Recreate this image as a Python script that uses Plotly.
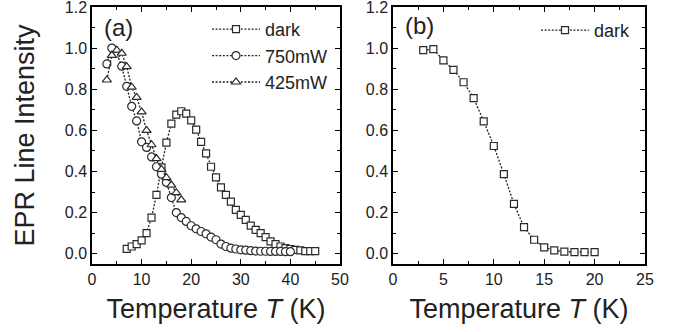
import plotly.graph_objects as go

# ---- data ----
t_dark_a = list(range(7, 46))
i_dark_a = [0.024, 0.035, 0.047, 0.065, 0.10, 0.176, 0.286, 0.42, 0.54, 0.633,
            0.677, 0.693, 0.681, 0.649, 0.604, 0.544, 0.488, 0.423, 0.371, 0.323,
            0.286, 0.253, 0.213, 0.189, 0.165, 0.137, 0.116, 0.10, 0.081, 0.060,
            0.047, 0.035, 0.027, 0.023, 0.019, 0.016, 0.013, 0.013, 0.013]

t_750 = list(range(3, 41))
i_750 = [0.923, 1.0, 0.975, 0.912, 0.814, 0.717, 0.646, 0.544, 0.517, 0.471,
         0.423, 0.387, 0.347, 0.273, 0.20, 0.176, 0.157, 0.136, 0.121, 0.108,
         0.097, 0.081, 0.068, 0.047, 0.035, 0.027, 0.023, 0.019, 0.017, 0.015,
         0.013, 0.012, 0.012, 0.011, 0.011, 0.011, 0.010, 0.010]

t_425 = list(range(3, 19))
i_425 = [0.845, 0.965, 0.99, 0.975, 0.91, 0.81, 0.76, 0.69, 0.60, 0.53,
         0.463, 0.41, 0.37, 0.334, 0.297, 0.262]

t_dark_b = list(range(3, 21))
i_dark_b = [0.99, 0.995, 0.94, 0.894, 0.834, 0.757, 0.644, 0.524, 0.387, 0.242,
            0.129, 0.068, 0.031, 0.016, 0.010, 0.008, 0.008, 0.008]

y_ticks = [0.0, 0.2, 0.4, 0.6, 0.8, 1.0, 1.2]
y_ticklabels = ["0.0", "0.2", "0.4", "0.6", "0.8", "1.0", "1.2"]

FONT = "Liberation Sans, Arial, Helvetica, sans-serif"
LINE = dict(color="#222222", width=1.3, dash="2px,1.6px")


def mk(symbol, size):
    return dict(symbol=symbol, size=size, color="white",
                line=dict(color="#2a2a2a", width=1.2))


fig = go.Figure()
fig.add_trace(go.Scatter(x=t_dark_a, y=i_dark_a, mode="lines+markers", name="dark",
                         line=LINE, marker=mk("square", 7), xaxis="x", yaxis="y",
                         legend="legend"))
fig.add_trace(go.Scatter(x=t_750, y=i_750, mode="lines+markers", name="750mW",
                         line=LINE, marker=mk("circle", 8), xaxis="x", yaxis="y",
                         legend="legend"))
fig.add_trace(go.Scatter(x=t_425, y=i_425, mode="lines+markers", name="425mW",
                         line=LINE, marker=mk("triangle-up", 8), xaxis="x", yaxis="y",
                         legend="legend"))
fig.add_trace(go.Scatter(x=t_dark_b, y=i_dark_b, mode="lines+markers", name="dark",
                         line=LINE, marker=mk("square", 7), xaxis="x2", yaxis="y2",
                         legend="legend2"))

W, H = 679, 332
ydom = [(H - 264) / H, (H - 7) / H]

axis_common = dict(showline=True, linecolor="black", linewidth=1.5, mirror="allticks",
                   ticks="inside", ticklen=5, tickwidth=1.2, tickcolor="black",
                   showgrid=False, zeroline=False, ticklabeloverflow="allow",
                   tickfont=dict(family=FONT, size=16, color="#222222"))

fig.update_layout(
    width=W, height=H,
    margin=dict(l=0, r=0, t=0, b=0),
    paper_bgcolor="white", plot_bgcolor="white",
    font=dict(family=FONT, color="#222222"),
    xaxis=dict(domain=[92 / W, 340 / W], range=[0, 50], dtick=10, anchor="y",
               minor=dict(ticks="inside", ticklen=3, dtick=5, tickcolor="black"),
               title=dict(text="Temperature <i>T</i> (K)", font=dict(size=27, family=FONT),
                          standoff=12),
               automargin=False, **axis_common),
    yaxis=dict(domain=ydom, range=[-0.05, 1.2], tickvals=y_ticks, ticktext=y_ticklabels,
               anchor="x",
               minor=dict(ticks="inside", ticklen=3, dtick=0.1, tick0=0, tickcolor="black"),
               title=dict(text="EPR Line Intensity", font=dict(size=27, family=FONT),
                          standoff=22),
               automargin=False, **axis_common),
    xaxis2=dict(domain=[393 / W, 645 / W], range=[0, 25], dtick=5, anchor="y2",
                minor=dict(ticks="inside", ticklen=3, dtick=2.5, tickcolor="black"),
                title=dict(text="Temperature <i>T</i> (K)", font=dict(size=27, family=FONT),
                           standoff=12),
                automargin=False, **axis_common),
    yaxis2=dict(domain=ydom, range=[-0.05, 1.2], tickvals=y_ticks, ticktext=y_ticklabels,
                anchor="x2",
                minor=dict(ticks="inside", ticklen=3, dtick=0.1, tick0=0, tickcolor="black"),
                automargin=False, **axis_common),
    legend=dict(x=207 / W, y=(H - 11) / H, xanchor="left", yanchor="top",
                bgcolor="rgba(0,0,0,0)", font=dict(size=18, family=FONT, color="#222222"),
                itemwidth=48, tracegroupgap=0),
    legend2=dict(x=536 / W, y=(H - 12) / H, xanchor="left", yanchor="top",
                 bgcolor="rgba(0,0,0,0)", font=dict(size=18, family=FONT, color="#222222"),
                 itemwidth=48),
    annotations=[
        dict(text="(a)", x=0.04, y=(264 - 27.5) / 257, xref="x domain", yref="y domain",
             xanchor="left", yanchor="middle", showarrow=False,
             font=dict(size=24, family=FONT, color="#222222")),
        dict(text="(b)", x=0.04, y=(264 - 25.5) / 257, xref="x2 domain", yref="y2 domain",
             xanchor="left", yanchor="middle", showarrow=False,
             font=dict(size=24, family=FONT, color="#222222")),
    ],
)

fig.write_html("out.html")
